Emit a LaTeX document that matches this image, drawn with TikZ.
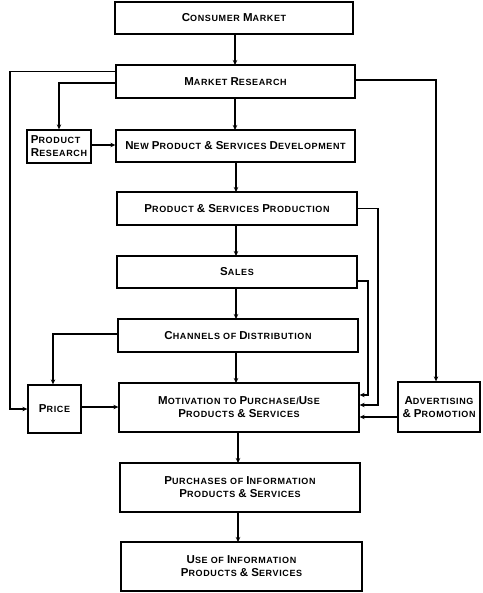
\documentclass[tikz,border=0pt]{standalone}
\usepackage{fontspec}
\setmainfont{Liberation Sans}
\usetikzlibrary{arrows.meta}
\newcommand\K[1]{{\fontsize{11.5}{12}\selectfont #1}}
\tikzset{
  box/.style={draw, line width=1.3pt, rectangle, inner sep=0pt, align=center,
    font=\fontsize{9}{13}\selectfont\bfseries\addfontfeature{LetterSpace=7}},
  link/.style={line width=1.2pt, -{Stealth[length=5pt,width=4.5pt]}},
}
\begin{document}
\begin{tikzpicture}[x=1pt,y=-1pt]
\useasboundingbox (0,0) rectangle (482,593);
\node[box, minimum width=238pt, minimum height=32pt] (cm) at (234,18) {\K{C}ONSUMER \K{M}ARKET};
\node[box, minimum width=239pt, minimum height=33pt] (mr) at (235.5,81.5) {\K{M}ARKET \K{R}ESEARCH};
\node[box, minimum width=64pt, minimum height=33pt, align=left] (pr) at (59,146.5) {\K{P}RODUCT\\\K{R}ESEARCH};
\node[box, minimum width=239pt, minimum height=32pt] (npd) at (235.5,146) {\K{N}EW \K{P}RODUCT \K{\&} \K{S}ERVICES \K{D}EVELOPMENT};
\node[box, minimum width=240pt, minimum height=33pt] (psp) at (237,208.5) {\K{P}RODUCT \K{\&} \K{S}ERVICES \K{P}RODUCTION};
\node[box, minimum width=240pt, minimum height=32pt] (sal) at (237,272) {\K{S}ALES};
\node[box, minimum width=240pt, minimum height=33pt] (cod) at (238,335.5) {\K{C}HANNELS OF \K{D}ISTRIBUTION};
\node[box, minimum width=240pt, minimum height=49pt] (mot) at (239,407.5) {\K{M}OTIVATION TO \K{P}URCHASE/\K{U}SE\\\K{P}RODUCTS \K{\&} \K{S}ERVICES};
\node[box, minimum width=53pt, minimum height=48pt] (pri) at (54.5,409) {\K{P}RICE};
\node[box, minimum width=82pt, minimum height=50pt] (adv) at (439,407) {\K{A}DVERTISING\\\K{\&} \K{P}ROMOTION};
\node[box, minimum width=240pt, minimum height=49pt] (pur) at (240,487.5) {\K{P}URCHASES OF \K{I}NFORMATION\\\K{P}RODUCTS \K{\&} \K{S}ERVICES};
\node[box, minimum width=241pt, minimum height=49pt] (use) at (241.5,566.5) {\K{U}SE OF \K{I}NFORMATION\\\K{P}RODUCTS \K{\&} \K{S}ERVICES};

\coordinate (lx) at (10,0);
\coordinate (rx) at (436,0);
\coordinate (px) at (378,0);
\coordinate (sx) at (368,0);
\coordinate (cx) at (53,0);

\draw[link] (235,34) -- (235,65);
\draw[link] (235,98) -- (235,130);
\draw[link] (236,162) -- (236,192);
\draw[link] (236,225) -- (236,256);
\draw[link] (236,288) -- (236,319);
\draw[link] (236,352) -- (236,383);
\draw[link] (238,432) -- (238,463);
\draw[link] (238,512) -- (238,542);

\draw[link] ([yshift=10pt]mr.west) -| (lx |- pri.west) -- (pri.west);
\draw[link] ([yshift=-1.5pt]mr.west) -| (pr.north);
\draw[link] ([yshift=1.5pt]mr.east) -| (rx |- adv.north);
\draw[link] ([yshift=1.5pt]pr.east) -- ([yshift=1.5pt]pr.east -| npd.west);
\draw[link] (psp.east) -| (px |- 0,405) -- (mot.east |- 0,405);
\draw[link] ([yshift=-9pt]sal.east) -| (sx |- 0,395) -- (mot.east |- 0,395);
\draw[link] (cod.west |- 0,334) -| (cx |- pri.north);
\draw[link] (pri.east |- 0,407) -- (mot.west |- 0,407);
\draw[link] (adv.west |- 0,417) -- (mot.east |- 0,417);
\end{tikzpicture}
\end{document}
